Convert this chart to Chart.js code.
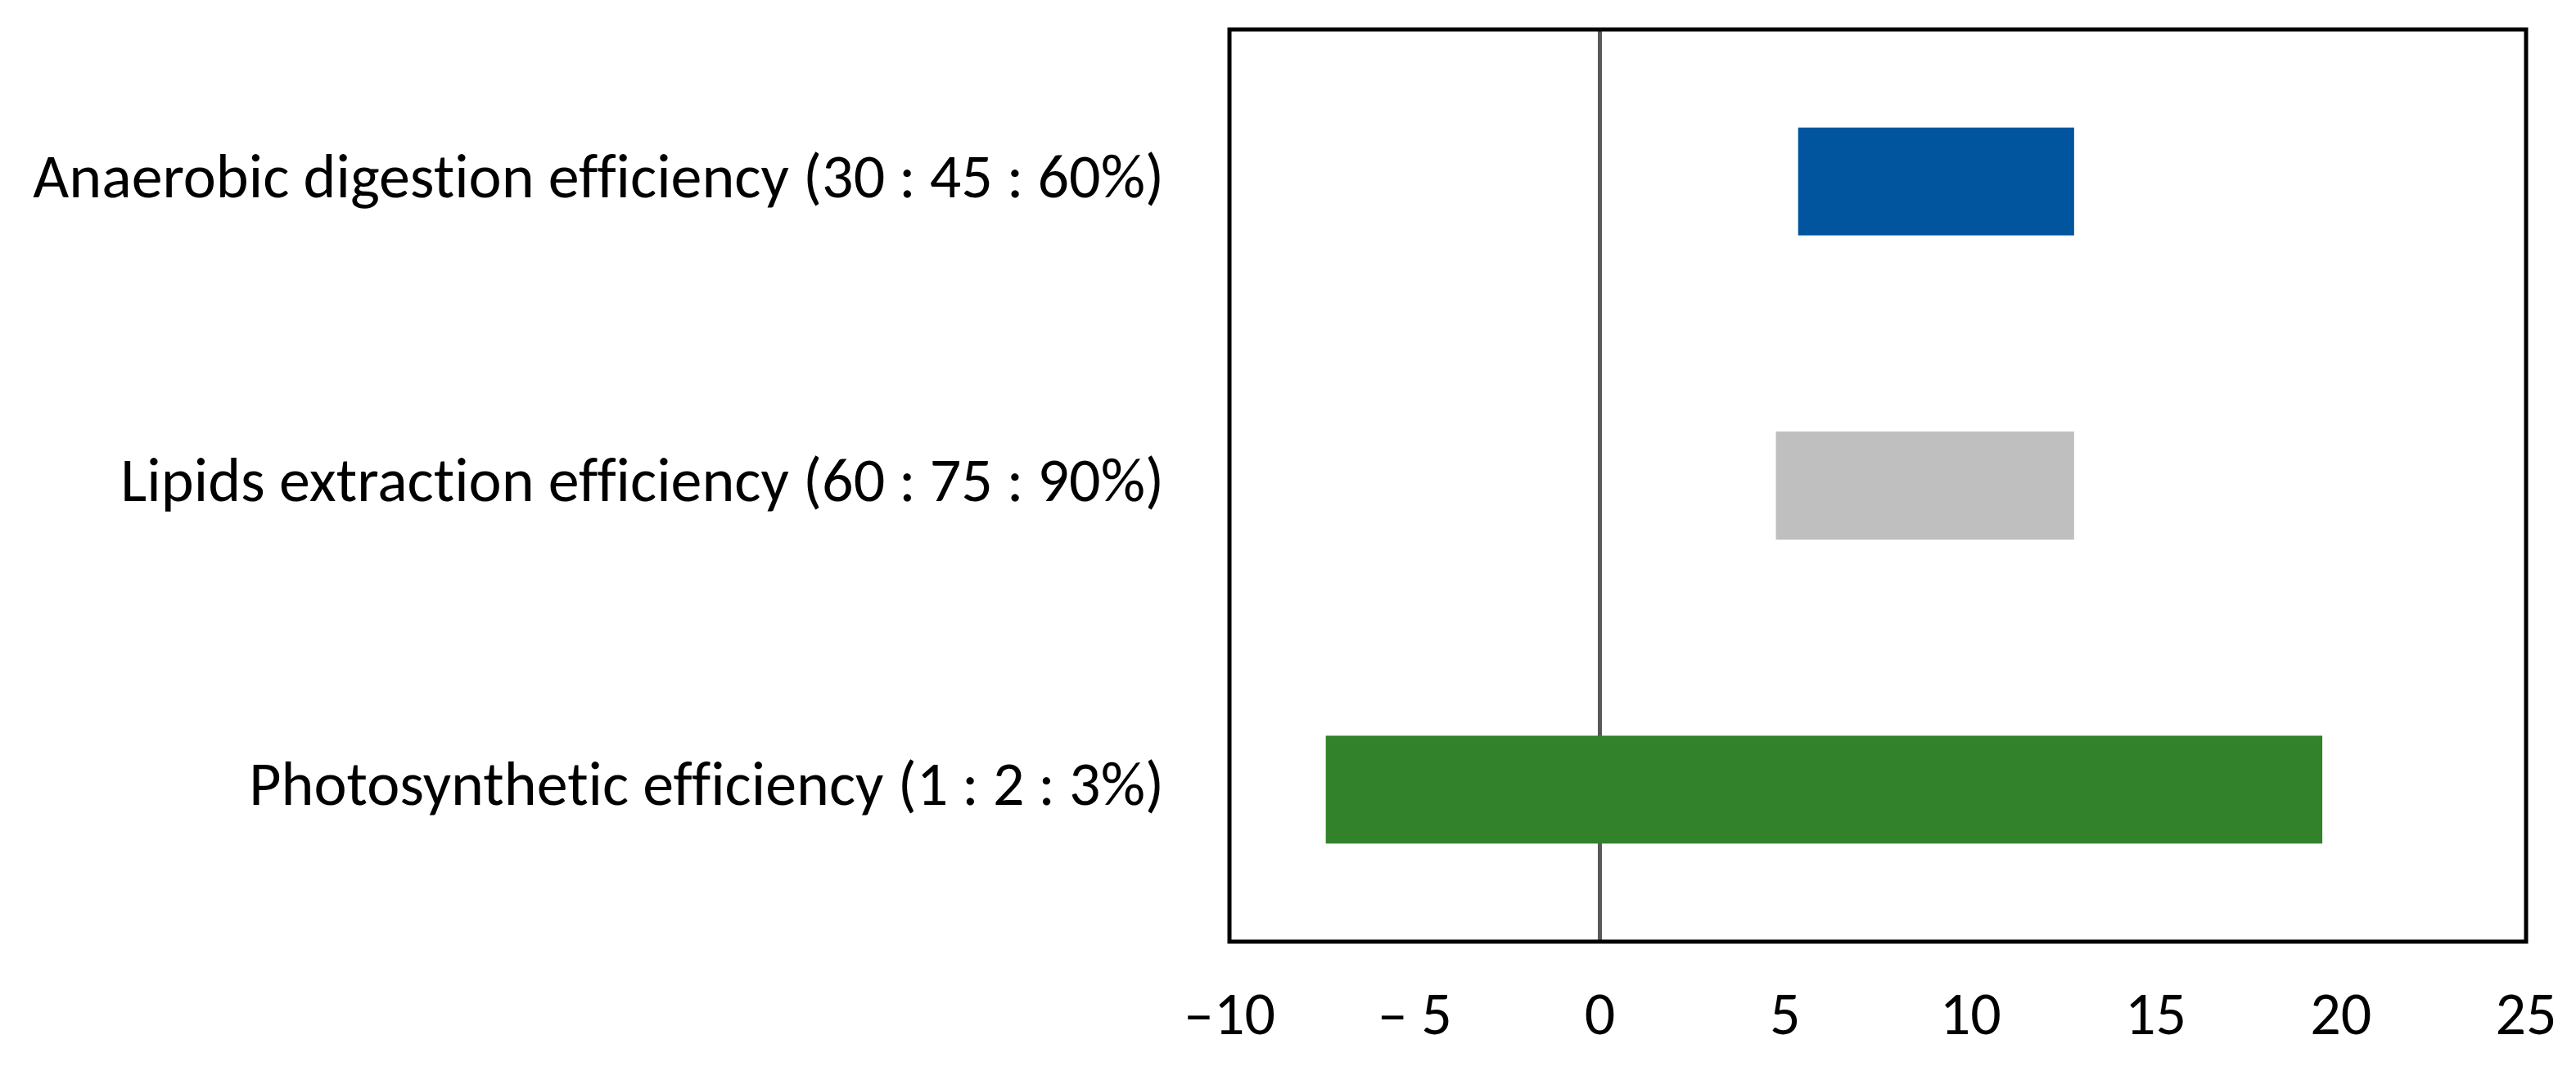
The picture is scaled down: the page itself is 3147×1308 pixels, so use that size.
<!DOCTYPE html>
<html>
<head>
<meta charset="utf-8">
<script src="https://cdn.jsdelivr.net/npm/chart.js@4"></script>
<style>
  html, body { margin: 0; padding: 0; background: #ffffff; }
  #wrap { width: 3147px; height: 1308px; }
</style>
</head>
<body>
<div id="wrap"><canvas id="c" width="3147" height="1308"></canvas></div>
<script>
// ---- data ----
const categories = [
  "Anaerobic digestion efficiency (30 : 45 : 60%)",
  "Lipids extraction efficiency (60 : 75 : 90%)",
  "Photosynthetic efficiency (1 : 2 : 3%)"
];
const lowValues  = [5.35, 4.75, -7.4];
const highValues = [12.8, 12.8, 19.5];
const barColors  = ["#00559E", "#BFBFBF", "#31822B"];
const xTickValues = [-10, -5, 0, 5, 10, 15, 20, 25];
const xTickLabels = ["\u201310", "\u2013 5", "0", "5", "10", "15", "20", "25"];

const FONT = '"Carlito", "Lato", sans-serif';

const textPlugin = {
  id: 'textRendering',
  beforeDraw(chart) {
    try { chart.ctx.textRendering = 'optimizeSpeed'; } catch (e) {}
  }
};

const framePlugin = {
  id: 'frame',
  afterDraw(chart) {
    const a = chart.chartArea, ctx = chart.ctx;
    ctx.save();
    ctx.strokeStyle = '#000000';
    ctx.lineWidth = 5;
    ctx.strokeRect(a.left, a.top, a.right - a.left, a.bottom - a.top);
    ctx.restore();
  }
};

function zeroPad(scale) {
  scale.paddingTop = 0; scale.paddingBottom = 0;
  scale.paddingLeft = 0; scale.paddingRight = 0;
}

new Chart(document.getElementById('c'), {
  type: 'bar',
  data: {
    labels: categories,
    datasets: [{
      data: categories.map((_, i) => [lowValues[i], highValues[i]]),
      backgroundColor: barColors,
      borderWidth: 0,
      barPercentage: 0.355,
      categoryPercentage: 1.0
    }]
  },
  options: {
    indexAxis: 'y',
    responsive: false,
    animation: false,
    devicePixelRatio: 1,
    layout: { padding: { top: 36, right: 61, left: 0, bottom: 0 } },
    plugins: { legend: { display: false }, tooltip: { enabled: false } },
    scales: {
      x: {
        type: 'linear',
        min: -10, max: 25,
        z: 1,
        afterBuildTicks(scale) { scale.ticks = xTickValues.map(v => ({ value: v })); },
        afterFit(scale) { scale.height = 158; zeroPad(scale); },
        border: { display: false },
        grid: {
          drawTicks: false,
          lineWidth: 5,
          color: ctx => (ctx.tick && ctx.tick.value === 0) ? '#595959' : 'rgba(0,0,0,0)'
        },
        ticks: {
          padding: 50,
          color: '#000000',
          font: { family: FONT, size: 74 },
          maxRotation: 0,
          callback: (v) => { const i = xTickValues.indexOf(v); return i >= 0 ? xTickLabels[i] : ''; }
        }
      },
      y: {
        afterFit(scale) { scale.width = 1502; zeroPad(scale); },
        border: { display: false },
        grid: { display: false, drawTicks: false },
        ticks: {
          padding: 80,
          color: '#000000',
          font: { family: FONT, size: 76 }
        }
      }
    }
  },
  plugins: [textPlugin, framePlugin]
});
</script>
</body>
</html>
